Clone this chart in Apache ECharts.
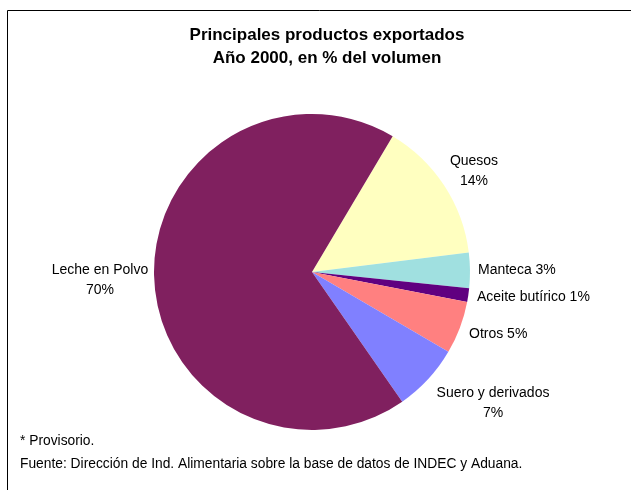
<!DOCTYPE html>
<html>
<head>
<meta charset="utf-8">
<script src="https://cdn.jsdelivr.net/npm/echarts@6/dist/echarts.min.js"></script>
<style>
  html, body { margin: 0; padding: 0; background: #fff; }
  #chart { width: 631px; height: 490px; }
</style>
</head>
<body>
<div id="chart"></div>
<script>
// productos, en el orden horario desde Quesos
const productos = ['Quesos', 'Manteca', 'Aceite butírico', 'Otros', 'Suero y derivados', 'Leche en Polvo']
// porcentaje que ocupa cada porción en la torta
const volumen = [14.5, 3.6, 1.4, 5.4, 6.9, 68.2]
// porcentaje escrito en la etiqueta
const etiqueta = ['14%', '3%', '1%', '5%', '7%', '70%']
const colores = ['#ffffc0', '#a0e0e0', '#600080', '#ff8080', '#8080ff', '#80205f']
// etiquetas en dos renglones
const dosRenglones = ['Quesos', 'Suero y derivados', 'Leche en Polvo']

const fuente = 'Liberation Sans, Arial, sans-serif'
// ubicacion de cada etiqueta (x, y, alineacion)
const ubicEtiq = [
  [474, 171, 'center'],
  [478, 270, 'left'],
  [477, 297, 'left'],
  [469, 334, 'left'],
  [493, 403, 'center'],
  [100, 280, 'center']
]

let chart = echarts.init(document.getElementById('chart'))
chart.setOption({
  animation: false,
  color: colores,
  textStyle: { fontFamily: fuente },
  title: {
    text: 'Principales productos exportados\nAño 2000, en % del volumen',
    left: 322,
    top: 19,
    textAlign: 'center',
    textStyle: { fontSize: 17, fontWeight: 'bold', color: '#000', lineHeight: 23, fontFamily: fuente }
  },
  graphic: [
    { type: 'polyline', shape: { points: [[7.5, 490], [7.5, 10.5], [631, 10.5]] }, style: { stroke: '#000', lineWidth: 1, fill: null } },
    { type: 'text', left: 20, top: 434, style: { text: '* Provisorio.', fontSize: 13.8, fill: '#000', fontFamily: fuente } },
    { type: 'text', left: 20, top: 457, style: { text: 'Fuente: Dirección de Ind. Alimentaria sobre la base de datos de INDEC y Aduana.', fontSize: 13.8, fill: '#000', fontFamily: fuente } }
  ],
  series: [
    {
      type: 'pie',
      center: [312, 272],
      radius: 158,
      startAngle: 59.3,
      clockwise: true,
      avoidLabelOverlap: false,
      itemStyle: { borderWidth: 0 },
      label: {
        show: true,
        position: 'outside',
        fontSize: 14,
        color: '#000',
        lineHeight: 20,
        formatter: function (p) {
          if (dosRenglones.indexOf(p.name) >= 0) return p.name + '\n' + etiqueta[p.dataIndex]
          return p.name + ' ' + etiqueta[p.dataIndex]
        }
      },
      labelLine: { show: false },
      labelLayout: function (p) {
        const u = ubicEtiq[p.dataIndex]
        return { x: u[0], y: u[1], align: u[2], verticalAlign: 'middle' }
      },
      data: productos.map((n, i) => ({ name: n, value: volumen[i] }))
    }
  ]
})
</script>
</body>
</html>
